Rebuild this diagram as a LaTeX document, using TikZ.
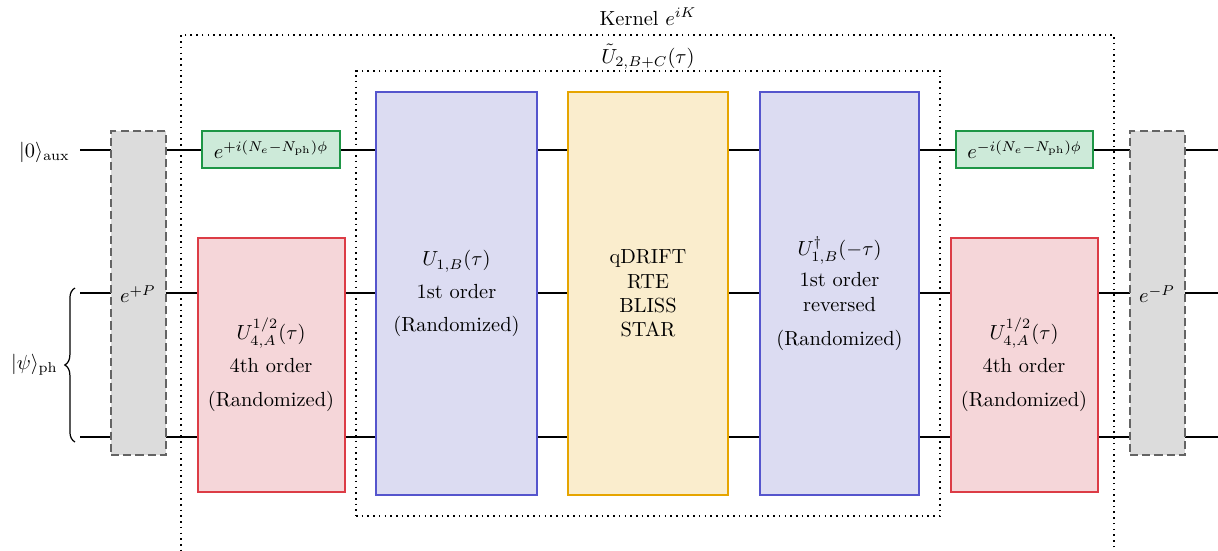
\documentclass[tikz,border=0pt]{standalone}
\usetikzlibrary{fit,decorations.pathreplacing}
\definecolor{grnfill}{RGB}{205,234,217}
\definecolor{grnline}{RGB}{30,150,70}
\definecolor{redfill}{RGB}{245,214,217}
\definecolor{redline}{RGB}{220,60,70}
\definecolor{blufill}{RGB}{220,220,242}
\definecolor{bluline}{RGB}{85,85,205}
\definecolor{yelfill}{RGB}{250,237,205}
\definecolor{yelline}{RGB}{230,165,0}
\definecolor{gryfill}{RGB}{220,220,220}
\definecolor{gryline}{RGB}{100,100,100}
\begin{document}
\begin{tikzpicture}[x=0.49pt,y=-0.49pt,
  wire/.style={line width=0.8pt},
  gatebox/.style={inner sep=0pt, line width=0.9pt},
  phasebox/.style={gatebox, draw=grnline, fill=grnfill},
  fourthbox/.style={gatebox, draw=redline, fill=redfill},
  firstbox/.style={gatebox, draw=bluline, fill=blufill},
  randbox/.style={gatebox, draw=yelline, fill=yelfill},
  transbox/.style={gatebox, draw=gryline, fill=gryfill, dash pattern=on 4pt off 2pt},
  region/.style={inner sep=0pt, draw, dotted, line width=0.8pt},
  txt/.style={align=center, inner sep=1pt}]
\useasboundingbox (0,0) rectangle (1218,550);

% wire end points
\coordinate (auxL) at (80,150);  \coordinate (auxR) at (1218,150);
\coordinate (phaL) at (80,293);  \coordinate (phaR) at (1218,293);
\coordinate (phbL) at (80,437);  \coordinate (phbR) at (1218,437);

% the three circuit wires, drawn beneath the gates
\draw[wire] (auxL) -- (auxR);
\draw[wire] (phaL) -- (phaR);
\draw[wire] (phbL) -- (phbR);

% enclosing regions
\node[region, fit={(181,35) (1114,620)}] (kernel) {};
\node[anchor=base, inner sep=0pt] (kernellbl) at (648,25) {Kernel $e^{iK}$};
\node[region, fit={(356,71) (940,516)}] (utwo) {};
\node[anchor=base, inner sep=0pt] (utwolbl) at (648,63) {$\tilde{U}_{2,B+C}(\tau)$};

% basis transformations
\node[transbox, fit={(111,131) (166,455)}] (pin) {};
\node[txt] (pinlbl) at (138,294) {$e^{+P}$};
\node[transbox, fit={(1130,131) (1185,455)}] (pout) {};
\node[txt] (poutlbl) at (1157,294) {$e^{-P}$};

% number-conserving phases on the auxiliary qubit
\node[phasebox, fit={(202,131) (340,168)}] (ph1) {};
\node[txt] (ph1lbl) at (ph1.center) {$e^{+i(N_e-N_{\mathrm{ph}})\phi}$};
\node[phasebox, fit={(956,131) (1093,168)}] (ph2) {};
\node[txt] (ph2lbl) at (ph2.center) {$e^{-i(N_e-N_{\mathrm{ph}})\phi}$};

% fourth-order half steps
\node[fourthbox, fit={(198,238) (345,492)}] (f1) {};
\node[txt] (f1lbl) at (271,365) {$U_{4,A}^{1/2}(\tau)$\\[4pt]4th order\\[5pt](Randomized)};
\node[fourthbox, fit={(951,238) (1098,492)}] (f2) {};
\node[txt] (f2lbl) at (1024,365) {$U_{4,A}^{1/2}(\tau)$\\[4pt]4th order\\[5pt](Randomized)};

% first-order steps and the randomized core
\node[firstbox, fit={(376,92) (537,495)}] (b1) {};
\node[txt] (b1lbl) at (b1.center) {$U_{1,B}(\tau)$\\[4pt]1st order\\[4pt](Randomized)};
\node[randbox, fit={(568,92) (728,495)}] (core) {};
\node[txt] (corelbl) at (core.center) {qDRIFT\\RTE\\BLISS\\STAR};
\node[firstbox, fit={(760,92) (919,495)}] (b2) {};
\node[txt] (b2lbl) at (b2.center) {$U^{\dagger}_{1,B}(-\tau)$\\[3pt]1st order\\reversed\\[5pt](Randomized)};

% register labels
\node[anchor=east] (auxlbl) at (77,152) {$|0\rangle_{\mathrm{aux}}$};
\coordinate (brb) at (75,442);
\coordinate (brt) at (75,288);
\draw[line width=0.6pt, decorate, decoration={brace, amplitude=5pt}] (brb) -- (brt);
\node[anchor=east] (pslbl) at (65,365) {$|\psi\rangle_{\mathrm{ph}}$};
\end{tikzpicture}
\end{document}
